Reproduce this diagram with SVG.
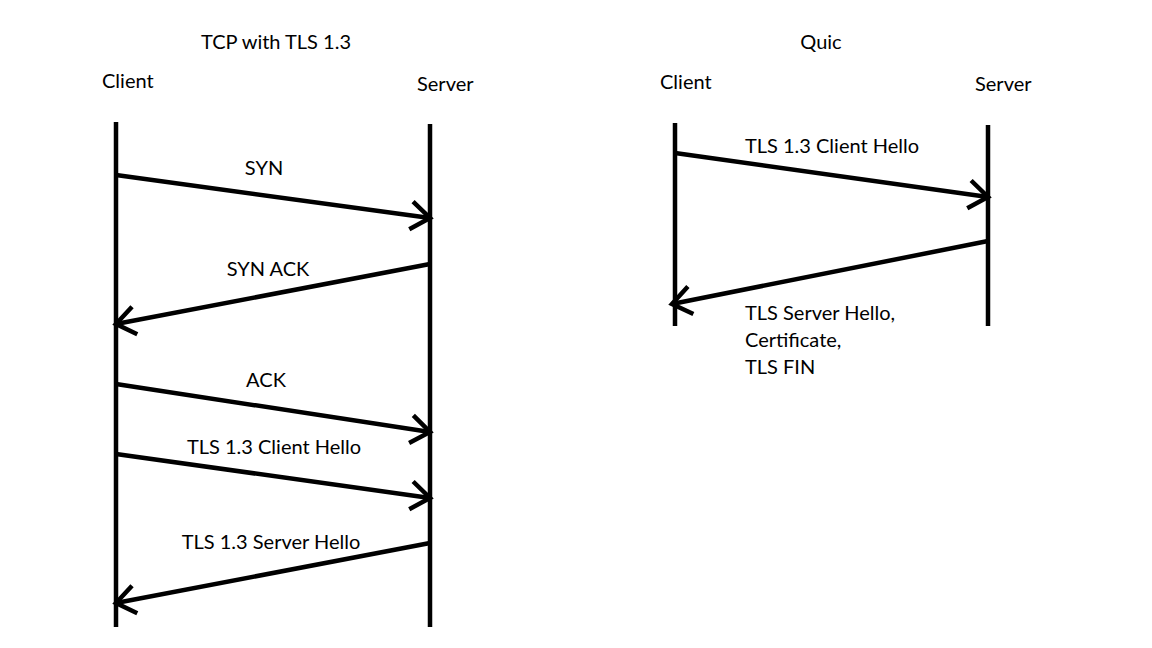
<svg xmlns="http://www.w3.org/2000/svg" width="1152" height="648" viewBox="0 0 1152 648">
<style>
.t{font-family:Lato,"Open Sans","Liberation Sans",sans-serif;font-size:20px;fill:#000}
.life{stroke:#000;stroke-width:4.5;fill:none}
.msg{stroke:#000;stroke-width:4.5;fill:none;marker-end:url(#arr)}
</style>
<defs>
<marker id="arr" markerUnits="userSpaceOnUse" orient="auto" refX="0" refY="0" markerWidth="40" markerHeight="40" viewBox="-30 -20 40 40" overflow="visible">
<path d="M-19,-14 L0,0 L-19,14" stroke="#000" stroke-width="4.5" fill="none"/>
</marker>
</defs>
<rect width="1152" height="648" fill="#fff"/>
<text class="t" x="276" y="49" text-anchor="middle">TCP with TLS 1.3</text>
<text class="t" x="821" y="49" text-anchor="middle">Quic</text>
<g id="tcp-client">
<text class="t" x="102" y="88">Client</text>
<line class="life" x1="116" y1="122" x2="116" y2="627"/>
</g>
<g id="tcp-server">
<text class="t" x="417" y="91">Server</text>
<line class="life" x1="430" y1="124" x2="430" y2="627"/>
</g>
<g id="quic-client">
<text class="t" x="660" y="89">Client</text>
<line class="life" x1="675" y1="123" x2="675" y2="326"/>
</g>
<g id="quic-server">
<text class="t" x="975" y="91">Server</text>
<line class="life" x1="988" y1="125" x2="988" y2="326"/>
</g>
<g id="connectors">
<line class="msg" x1="116" y1="175" x2="430" y2="218"/>
<text class="t" x="264" y="175" text-anchor="middle">SYN</text>
<line class="msg" x1="430" y1="264" x2="116" y2="324"/>
<text class="t" x="268" y="276" text-anchor="middle">SYN ACK</text>
<line class="msg" x1="116" y1="384" x2="430" y2="432"/>
<text class="t" x="266" y="387" text-anchor="middle">ACK</text>
<line class="msg" x1="116" y1="454" x2="430" y2="498"/>
<text class="t" x="274" y="454" text-anchor="middle">TLS 1.3 Client Hello</text>
<line class="msg" x1="430" y1="543" x2="116" y2="603"/>
<text class="t" x="271" y="549" text-anchor="middle">TLS 1.3 Server Hello</text>
<line class="msg" x1="675" y1="153" x2="988" y2="197"/>
<text class="t" x="832" y="153" text-anchor="middle">TLS 1.3 Client Hello</text>
<line class="msg" x1="988" y1="241" x2="672" y2="304"/>
<text class="t" x="745" y="320">TLS Server Hello,</text>
<text class="t" x="745" y="347">Certificate,</text>
<text class="t" x="745" y="374">TLS FIN</text>
</g>
</svg>
